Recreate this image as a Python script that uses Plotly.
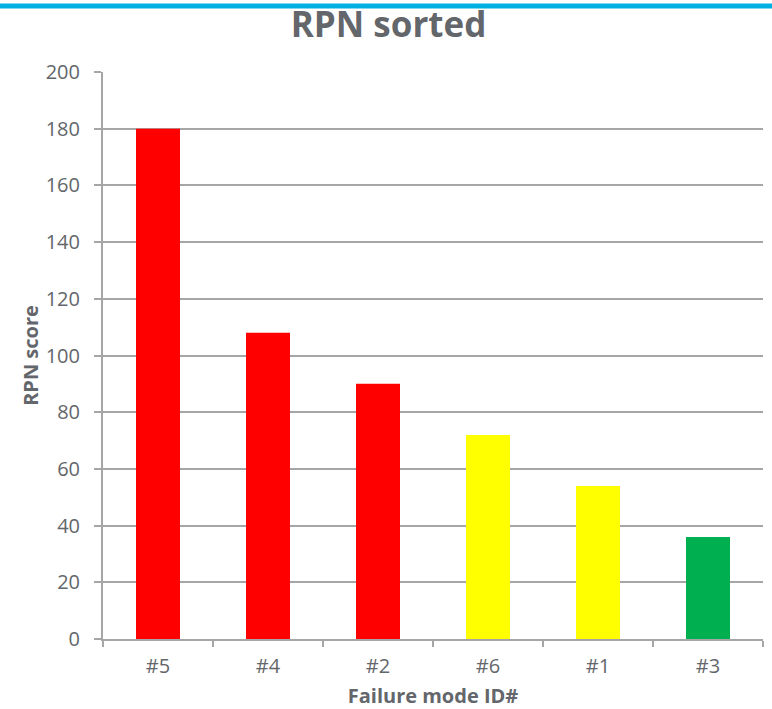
import plotly.graph_objects as go

# Failure modes sorted by risk priority number
failure_modes = ["#5", "#4", "#2", "#6", "#1", "#3"]
rpn_scores = [180, 108, 90, 72, 54, 36]
bar_colors = ["#FF0000", "#FF0000", "#FF0000", "#FFFF00", "#FFFF00", "#00B050"]
y_ticks = [0, 20, 40, 60, 80, 100, 120, 140, 160, 180, 200]

text_grey = "#63666A"
line_grey = "#A6A6A6"
font_family = "Open Sans, Noto Sans, sans-serif"

W, H = 772, 709
ml, mr, mt, mb = 103, 9, 72, 70
plot_w = W - ml - mr
plot_h = H - mt - mb

fig = go.Figure(
    go.Bar(
        x=failure_modes,
        y=rpn_scores,
        marker=dict(color=bar_colors, line=dict(width=0)),
        hoverinfo="x+y",
    )
)

fig.update_layout(
    width=W,
    height=H,
    margin=dict(l=ml, r=mr, t=mt, b=mb, autoexpand=False),
    paper_bgcolor="white",
    plot_bgcolor="white",
    bargap=0.6,
    showlegend=False,
    font=dict(family=font_family, color=text_grey, size=20),
    title=dict(
        text="<b>RPN sorted</b>",
        x=(287 + 490) / 2 / W,
        xanchor="center",
        xref="container",
        y=1 - 25 / H,
        yanchor="middle",
        yref="container",
        font=dict(size=35, color=text_grey, family=font_family),
    ),
    xaxis=dict(
        automargin=False,
        showgrid=False,
        showline=True,
        linecolor=line_grey,
        linewidth=2,
        ticks="outside",
        tickson="boundaries",
        ticklen=6,
        tickwidth=2,
        tickcolor=line_grey,
        tickfont=dict(size=20, color=text_grey),
        ticklabelstandoff=8,
        title=dict(
            text="<b>Failure mode ID#</b>",
            font=dict(size=20, color=text_grey),
            standoff=12,
        ),
    ),
    yaxis=dict(
        automargin=False,
        range=[0, 200],
        tickvals=y_ticks,
        showgrid=True,
        gridcolor=line_grey,
        gridwidth=1.5,
        showline=True,
        linecolor=line_grey,
        linewidth=2,
        ticks="outside",
        ticklen=7,
        tickwidth=1.5,
        tickcolor=line_grey,
        tickfont=dict(size=20, color=text_grey),
        ticklabelstandoff=10,
        zeroline=False,
        title=dict(
            text="<b>RPN score</b>",
            font=dict(size=20, color=text_grey),
            standoff=2,
        ),
    ),
    shapes=[
        # cyan header rule across the top of the page
        dict(
            type="line",
            xref="paper",
            yref="paper",
            x0=-ml / plot_w,
            x1=1 + mr / plot_w,
            y0=1 + (mt - 6) / plot_h,
            y1=1 + (mt - 6) / plot_h,
            line=dict(color="#00B0E0", width=5),
            layer="above",
        )
    ],
)

fig.write_html("out.html")
